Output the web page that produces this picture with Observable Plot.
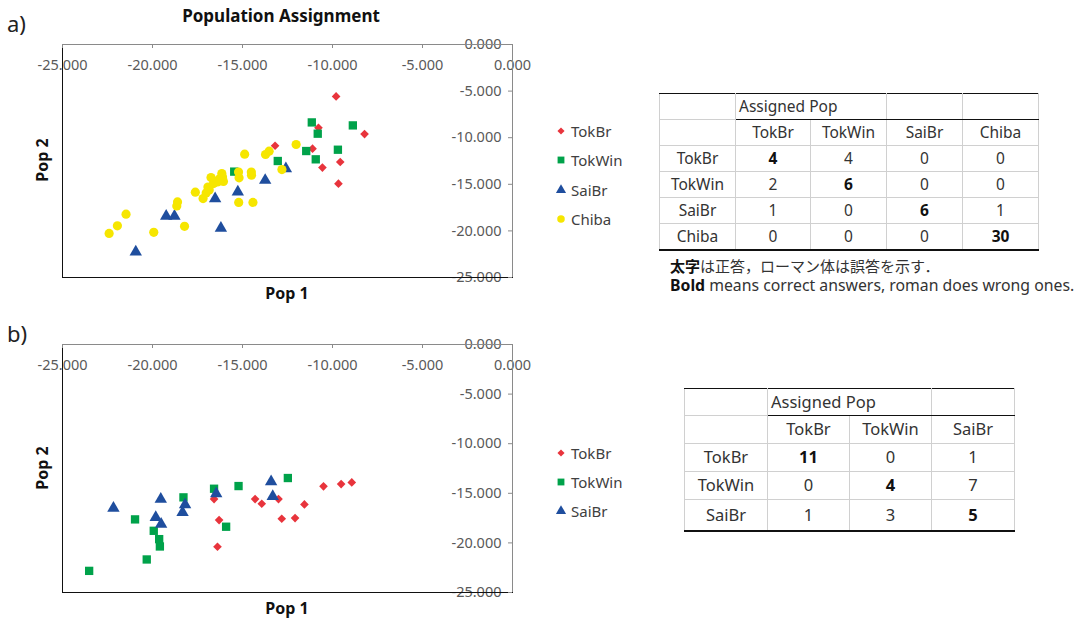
<!DOCTYPE html>
<html>
<head>
<meta charset="utf-8">
<script src="https://cdn.jsdelivr.net/npm/d3@7"></script>
<script src="https://cdn.jsdelivr.net/npm/@observablehq/plot@0.6"></script>
<style>
  body { margin: 0; background: #fff; }
  #page { position: relative; width: 1092px; height: 620px; overflow: hidden; background: #fff;
          font-family: "Noto Sans", "Noto Sans CJK JP", sans-serif; color: #333; }
  .ctr { position: absolute; transform: translate(-50%, -50%); white-space: nowrap; }
  .lbl { position: absolute; white-space: nowrap; }
  table.ct { position: absolute; border-collapse: collapse; table-layout: fixed; color: #333; }
  table.ct td { border: 1px solid #d0d0d0; padding: 0; text-align: center; vertical-align: middle; white-space: nowrap; line-height: 1; }
  table.ct tr:first-child td { border-top: 1px solid #111; }
  table.ct tr:first-child td.dk { border-bottom: 1px solid #111; }
  table.ct tr:last-child td { border-bottom: 2px solid #111; }
  table.ct td.ap { text-align: left; padding-left: 3px; }
  table.ct td.bd { font-weight: bold; color: #111; }
</style>
</head>
<body>
<div id="page"></div>
<script>
// ---------------- data ----------------
const populations = ["TokBr", "TokWin", "SaiBr", "Chiba"];
const axisTicks = [-25, -20, -15, -10, -5, 0];

// a) four populations: [Pop 1, Pop 2]
const a_TokBr = [[-9.80,-5.57],[-10.78,-8.93],[-8.22,-9.61],[-13.19,-10.86],[-11.11,-11.18],[-10.56,-13.21],[-9.57,-12.61],[-9.67,-14.93]];
const a_TokWin = [[-11.15,-8.36],[-8.87,-8.68],[-10.82,-9.57],[-11.46,-11.43],[-9.70,-11.29],[-10.93,-12.32],[-13.04,-12.50],[-15.46,-13.64]];
const a_SaiBr = [[-12.59,-13.32],[-13.74,-14.57],[-15.26,-15.82],[-16.52,-16.53],[-19.24,-18.43],[-18.78,-18.43],[-16.20,-19.71],[-20.93,-22.25]];
const a_Chiba = [[-22.41,-20.27],[-21.95,-19.46],[-21.47,-18.21],[-19.93,-20.15],[-18.22,-19.51],[-18.65,-17.32],[-18.61,-16.89],[-17.62,-15.84],[-17.19,-16.53],[-17.02,-15.93],[-16.92,-15.30],[-16.75,-14.28],[-16.61,-14.92],[-16.39,-14.75],[-16.15,-13.85],[-16.11,-14.21],[-16.06,-14.70],[-15.22,-13.68],[-15.19,-14.30],[-14.51,-13.68],[-14.50,-14.03],[-15.21,-16.94],[-14.42,-16.94],[-14.88,-11.77],[-13.72,-11.80],[-13.52,-11.45],[-12.02,-10.73],[-12.81,-13.42],[-16.85,-15.60],[-16.30,-14.45]];

// b) three populations
const b_TokBr = [[-16.58,-15.58],[-16.30,-17.70],[-16.39,-20.39],[-14.30,-15.58],[-13.93,-16.05],[-13.00,-15.58],[-12.82,-17.57],[-12.08,-17.50],[-11.56,-16.12],[-10.50,-14.30],[-9.52,-14.07],[-8.93,-13.90]];
const b_TokWin = [[-23.52,-22.82],[-20.97,-17.63],[-20.32,-21.67],[-19.93,-18.78],[-19.63,-19.62],[-19.59,-20.36],[-18.28,-15.41],[-16.58,-14.54],[-15.22,-14.27],[-15.91,-18.37],[-12.48,-13.46]];
const b_SaiBr = [[-22.17,-16.49],[-19.54,-15.58],[-19.82,-17.43],[-19.52,-18.10],[-18.33,-16.93],[-18.19,-16.15],[-16.46,-15.04],[-13.41,-13.83],[-13.32,-15.31]];

// tables (rows: true pop, cols: assigned pop)
const tableA_pops = ["TokBr", "TokWin", "SaiBr", "Chiba"];
const tableA_values = [[4,4,0,0],[2,6,0,0],[1,0,6,1],[0,0,0,30]];
const tableB_pops = ["TokBr", "TokWin", "SaiBr"];
const tableB_values = [[11,0,1],[0,4,7],[1,3,5]];

const texts = {
  labelA: "a)", labelB: "b)", title: "Population Assignment",
  xLabel: "Pop 1", yLabel: "Pop 2", assigned: "Assigned Pop",
  noteJa: ["太字", "は正答，ローマン体は誤答を示す．"],
  noteEn: ["Bold", " means correct answers, roman does wrong ones."]
};

// ---------------- styles ----------------
const FONT = `"Noto Sans", "Noto Sans CJK JP", sans-serif`;
const markStyle = {
  TokBr:  {color: "#e8343c", symbol: "diamond2", r: 3.9},
  TokWin: {color: "#00a24a", symbol: "square",   r: 4.7},
  SaiBr:  {color: "#1f4e9e", symbol: "triangle", r: 4.6},
  Chiba:  {color: "#f6e600", symbol: "circle",   r: 4.6}
};
const AXIS_GRAY = "#8a8a8a";
const TICK_TEXT = "#595959";

const page = document.getElementById("page");
function add(el, left, top) { el.style.left = left + "px"; el.style.top = top + "px"; page.appendChild(el); return el; }
function textDiv(cls, txt, css) { const d = document.createElement("div"); d.className = cls; d.textContent = txt; Object.assign(d.style, css || {}); return d; }

const fmt = v => (v < 0 ? "-" : "") + Math.abs(v).toFixed(3);

function scatter(series, height, marginTop, marginBottom) {
  const width = 540, marginLeft = 62, marginRight = 28;
  const plotW = width - marginLeft - marginRight;
  const plotH = height - marginTop - marginBottom;
  return Plot.plot({
    width, height, marginLeft, marginRight, marginTop, marginBottom,
    x: {domain: [-25, 0], axis: null},
    y: {domain: [-25, 0], axis: null},
    style: {fontFamily: FONT, background: "transparent", overflow: "visible"},
    marks: [
      Plot.text(axisTicks, {x: d => d, y: 0, dy: 21, text: fmt, fill: TICK_TEXT, fontSize: 14.5}),
      Plot.text(axisTicks, {x: 0, y: d => d, dx: -11, textAnchor: "end", text: fmt, fill: TICK_TEXT, fontSize: 14.5}),
      Plot.frame({stroke: "#111"}),
      Plot.ruleY([0], {stroke: AXIS_GRAY}),
      Plot.ruleX([0], {stroke: AXIS_GRAY}),
      Plot.ruleX(axisTicks, {x: d => d, insetBottom: plotH - 4, stroke: AXIS_GRAY}),
      Plot.ruleY(axisTicks, {y: d => d, insetLeft: plotW - 4, stroke: AXIS_GRAY}),
      ...series.map(([name, data]) => Plot.dot(data, {
        x: d => d[0], y: d => d[1],
        symbol: markStyle[name].symbol, r: markStyle[name].r,
        fill: markStyle[name].color, stroke: "none"
      }))
    ]
  });
}

const symbols = {diamond2: d3.symbolDiamond2, square: d3.symbolSquare, triangle: d3.symbolTriangle, circle: d3.symbolCircle};
function legend(names, x, ys) {
  names.forEach((name, i) => {
    const s = markStyle[name];
    const svg = d3.create("svg").attr("width", 14).attr("height", 14)
      .style("position", "absolute").style("left", (x - 7) + "px").style("top", (ys[i] - 7) + "px");
    svg.append("path").attr("transform", "translate(7,7)")
      .attr("d", d3.symbol(symbols[s.symbol], Math.PI * (s.r * 0.82) ** 2)())
      .attr("fill", s.color);
    page.appendChild(svg.node());
    const t = textDiv("lbl", name, {fontSize: "15px", color: "#404040", lineHeight: "20px"});
    add(t, x + 10, ys[i] - 10);
  });
}

function table(pops, values, left, top, colW, rowH, fontSize, apPad) {
  const t = document.createElement("table");
  t.className = "ct";
  t.style.left = left + "px"; t.style.top = top + "px";
  t.style.fontSize = fontSize + "px";
  t.style.width = d3.sum(colW) + "px";
  const cg = document.createElement("colgroup");
  colW.forEach(w => { const c = document.createElement("col"); c.style.width = w + "px"; cg.appendChild(c); });
  t.appendChild(cg);
  const r1 = t.insertRow(); r1.style.height = rowH[0] + "px";
  r1.insertCell();
  const ap = r1.insertCell(); ap.colSpan = 2; ap.className = "ap dk"; ap.textContent = texts.assigned; ap.style.paddingLeft = apPad + "px";
  for (let j = 2; j < pops.length; j++) { const c = r1.insertCell(); c.className = "dk"; }
  const r2 = t.insertRow(); r2.style.height = rowH[1] + "px";
  r2.insertCell();
  pops.forEach(p => { r2.insertCell().textContent = p; });
  pops.forEach((p, i) => {
    const r = t.insertRow(); r.style.height = rowH[2 + i] + "px";
    r.insertCell().textContent = p;
    values[i].forEach((v, j) => { const c = r.insertCell(); c.textContent = v; if (i === j) c.className = "bd"; });
  });
  page.appendChild(t);
}

// ---------------- panel a ----------------
add(textDiv("lbl", texts.labelA, {fontSize: "22px", color: "#222", lineHeight: "24px"}), 7, 11);
add(textDiv("ctr", texts.title, {fontSize: "17px", fontWeight: "bold", color: "#111"}), 281, 15);
const plotA = scatter([["TokBr", a_TokBr], ["TokWin", a_TokWin], ["SaiBr", a_SaiBr], ["Chiba", a_Chiba]], 300, 44, 23);
plotA.style.position = "absolute"; add(plotA, 0, 0);
add(textDiv("ctr", texts.xLabel, {fontSize: "16px", fontWeight: "bold", color: "#111"}), 287, 293);
add(textDiv("ctr", texts.yLabel, {fontSize: "16px", fontWeight: "bold", color: "#111", transform: "translate(-50%,-50%) rotate(-90deg)"}), 42, 160);
legend(populations, 561, [131, 160, 190, 219]);
table(tableA_pops, tableA_values, 659, 93, [76, 75, 76, 76, 76], [26, 26, 26, 26, 26, 26], 15.5, 3);
const noteJa = document.createElement("div");
noteJa.className = "lbl";
Object.assign(noteJa.style, {fontSize: "15px", lineHeight: "16px", color: "#333"});
noteJa.innerHTML = `<b style="color:#111">${texts.noteJa[0]}</b>${texts.noteJa[1]}`;
add(noteJa, 670, 258);
const noteEn = document.createElement("div");
noteEn.className = "lbl";
Object.assign(noteEn.style, {fontSize: "15.8px", lineHeight: "16px", color: "#333"});
noteEn.innerHTML = `<b style="color:#111">${texts.noteEn[0]}</b>${texts.noteEn[1]}`;
add(noteEn, 670, 277);

// ---------------- panel b ----------------
add(textDiv("lbl", texts.labelB, {fontSize: "22px", color: "#222", lineHeight: "24px"}), 7, 321);
const plotB = scatter([["TokBr", b_TokBr], ["TokWin", b_TokWin], ["SaiBr", b_SaiBr]], 310, 44, 18);
plotB.style.position = "absolute"; add(plotB, 0, 300);
add(textDiv("ctr", texts.xLabel, {fontSize: "16px", fontWeight: "bold", color: "#111"}), 287, 608);
add(textDiv("ctr", texts.yLabel, {fontSize: "16px", fontWeight: "bold", color: "#111", transform: "translate(-50%,-50%) rotate(-90deg)"}), 42, 468);
legend(populations.slice(0, 3), 561, [453, 482, 511]);
table(tableB_pops, tableB_values, 684, 388, [83, 82, 82, 83], [27, 28, 28, 28, 31], 16.5, 3);
</script>
</body>
</html>
